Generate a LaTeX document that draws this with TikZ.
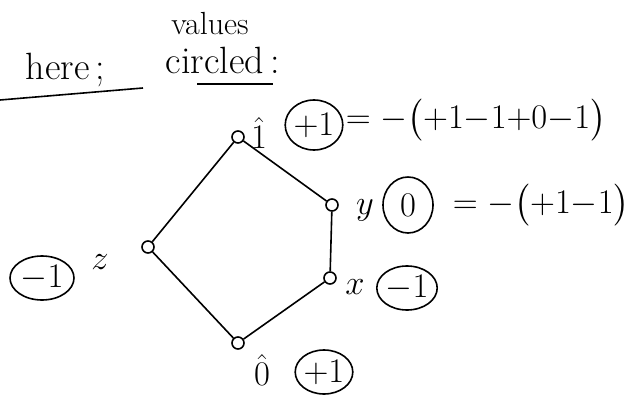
\documentclass[tikz,border=0pt]{standalone}
\usepackage{amsmath, amssymb}
\usepackage{tikz}
\usetikzlibrary{shapes.geometric}

\begin{document}
\begin{tikzpicture}[x=0.5pt, y=-0.5pt, line width=0.8pt,
    font=\fontsize{19}{23}\selectfont,
    pt/.style={circle, draw, inner sep=0pt, minimum size=6pt},
    val/.style={ellipse, draw, inner sep=0pt, minimum width=27pt, minimum height=25pt},
    lbl/.style={inner sep=0pt},
    calc/.style={lbl, anchor=west, font=\fontsize{17.5}{21}\selectfont}]
      \useasboundingbox (0,0) rectangle (641,401);

      % 1. 標題
      \node[lbl, anchor=base west] (here) at (25,80) {here\,;};
      \node[lbl, font=\fontsize{16}{19}\selectfont] (values) at (210,24) {values};
      \node[lbl, anchor=base west] (circled) at (165,74) {circled\,:};
      \draw (0,100) -- (143,88);
      \draw (197,84) -- (273,84);

      % 2. 格的五個點
      \node[pt] (one) at (238,137) {};
      \node[pt] (y) at (332,205) {};
      \node[pt] (x) at (330,278) {};
      \node[pt] (zero) at (238,343) {};
      \node[pt] (z) at (148,247) {};

      % 3. 連線
      \draw (one) -- (y) -- (x) -- (zero) -- (z) -- (one);

      % 4. 點的名字
      \node[lbl] (lone) at (259,133) {$\hat{1}$};
      \node[lbl] (ly) at (365,210) {$y$};
      \node[lbl] (lx) at (355,287) {$x$};
      \node[lbl] (lzero) at (262,370) {$\hat{0}$};
      \node[lbl] (lz) at (100,262) {$z$};

      % 5. 圈起來的值
      \node[val] (vone) at (314,125) {$+1$};
      \node[val, minimum width=25pt, minimum height=28pt] (vy) at (408,205) {$0$};
      \node[val, minimum width=30pt, minimum height=22pt] (vx) at (407,288) {$-1$};
      \node[val, minimum height=22pt] (vzero) at (324,372) {$+1$};
      \node[val, minimum width=32pt, minimum height=22pt] (vz) at (42,278) {$-1$};

      % 6. 計算
      \node[calc] (eqone) at (345,120) {${=}\;{-}\bigl({+}1{-}1{+}0{-}1\bigr)$};
      \node[calc] (eqy) at (452,205) {${=}\;{-}\bigl({+}1{-}1\bigr)$};
\end{tikzpicture}
\end{document}
